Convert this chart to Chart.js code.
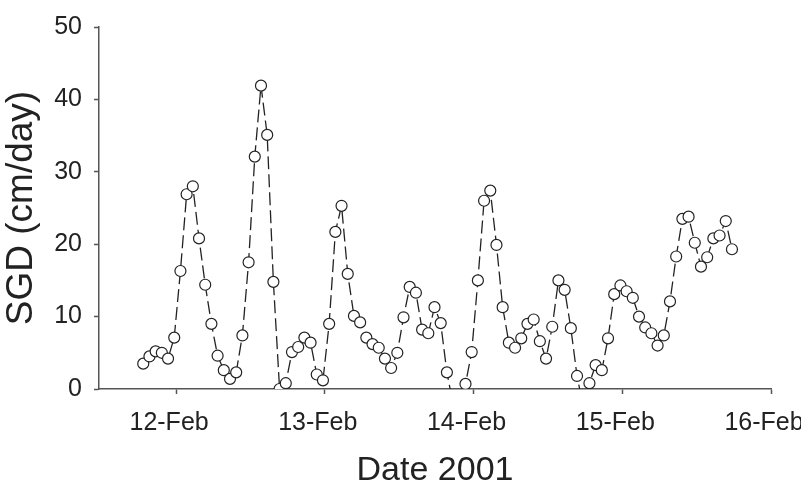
<!DOCTYPE html>
<html>
<head>
<meta charset="utf-8">
<script src="https://cdn.jsdelivr.net/npm/chart.js@4.4.1/dist/chart.umd.min.js"></script>
<style>
html, body { margin: 0; padding: 0; background: #fff; overflow: hidden; }
#wrap { width: 830px; height: 489px; }
</style>
</head>
<body>
<div id="wrap"><canvas id="chart" width="830" height="489"></canvas></div>
<script>
// hours after 12-Feb 00:00 (hourly samples)
const hours = [
    -5.3, -4.3, -3.3, -2.3, -1.3, -0.3, 0.7, 1.7, 2.7, 3.7, 4.7, 5.7,
    6.7, 7.7, 8.7, 9.7, 10.7, 11.7, 12.7, 13.7, 14.7, 15.7, 16.7, 17.7,
    18.7, 19.7, 20.7, 21.7, 22.7, 23.7, 24.7, 25.7, 26.7, 27.7, 28.7, 29.7,
    30.7, 31.7, 32.7, 33.7, 34.7, 35.7, 36.7, 37.7, 38.7, 39.7, 40.7, 41.7,
    42.7, 43.7, 44.7, 45.7, 46.7, 47.7, 48.7, 49.7, 50.7, 51.7, 52.7, 53.7,
    54.7, 55.7, 56.7, 57.7, 58.7, 59.7, 60.7, 61.7, 62.7, 63.7, 64.7, 65.7,
    66.7, 67.7, 68.7, 69.7, 70.7, 71.7, 72.7, 73.7, 74.7, 75.7, 76.7, 77.7,
    78.7, 79.7, 80.7, 81.7, 82.7, 83.7, 84.7, 85.7, 86.7, 87.7, 88.7, 89.7
];

// SGD in cm/day
const sgd = [
    3.5, 4.5, 5.2, 5.0, 4.2, 7.1, 16.3, 26.9, 28.0, 20.8,
    14.4, 9.0, 4.6, 2.6, 1.4, 2.3, 7.4, 17.5, 32.1, 41.9,
    35.1, 14.8, 0.0, 0.8, 5.1, 5.8, 7.1, 6.4, 2.0, 1.2,
    9.0, 21.7, 25.3, 15.9, 10.1, 9.2, 7.1, 6.2, 5.7, 4.2,
    2.9, 5.0, 9.9, 14.1, 13.3, 8.2, 7.7, 11.3, 9.1, 2.3,
    -2.1, -2.0, 0.7, 5.1, 15.0, 26.0, 27.4, 19.9, 11.3, 6.4,
    5.7, 7.0, 9.0, 9.6, 6.6, 4.2, 8.6, 15.0, 13.7, 8.4,
    1.8, -2.5, 0.8, 3.3, 2.6, 7.0, 13.1, 14.3, 13.5, 12.6,
    10.0, 8.5, 7.7, 6.0, 7.4, 12.1, 18.3, 23.5, 23.8, 20.2,
    16.9, 18.2, 20.8, 21.2, 23.2, 19.3
];

const tickHours = [0, 24, 48, 72, 96];
const tickLabels = ["12-Feb", "13-Feb", "14-Feb", "15-Feb", "16-Feb"];

const fam = "'Liberation Sans', Arial, sans-serif";
const ink = "#222";
const axisCol = "#555";

const ctx = document.getElementById("chart").getContext("2d");
new Chart(ctx, {
    type: "line",
    data: {
        datasets: [{
            data: hours.map((h, i) => ({ x: h, y: sgd[i] })),
            borderColor: ink,
            borderWidth: 1.3,
            borderDash: [13, 5],
            pointRadius: 5.5,
            pointBorderWidth: 1.2,
            pointBackgroundColor: "#fff",
            pointBorderColor: ink,
            tension: 0
        }]
    },
    options: {
        responsive: false,
        animation: false,
        layout: { padding: { top: 17, right: 59, left: 0, bottom: 0 } },
        plugins: { legend: { display: false }, tooltip: { enabled: false } },
        scales: {
            x: {
                type: "linear",
                min: -12.44,
                max: 96,
                afterBuildTicks: (s) => { s.ticks = tickHours.map(v => ({ value: v })); },
                afterFit: (s) => { s.height = 100; },
                grid: { drawOnChartArea: false, drawTicks: true, tickLength: 5, tickColor: axisCol, tickWidth: 1.5 },
                border: { display: true, color: axisCol, width: 1.5 },
                ticks: {
                    callback: (v, i) => tickLabels[i],
                    padding: 14,
                    labelOffset: -7,
                    maxRotation: 0,
                    autoSkip: false,
                    color: ink,
                    font: { family: fam, size: 25 }
                },
                title: {
                    display: true,
                    text: "Date 2001",
                    color: ink,
                    font: { family: fam, size: 34, lineHeight: 1 },
                    padding: { top: 0, bottom: 1 }
                }
            },
            y: {
                min: 0,
                max: 50,
                afterFit: (s) => { s.width = 99; },
                grid: { drawOnChartArea: false, drawTicks: true, tickLength: 5, tickColor: axisCol, tickWidth: 1.5 },
                border: { display: true, color: axisCol, width: 1.5 },
                ticks: {
                    stepSize: 10,
                    padding: 12,
                    color: ink,
                    font: { family: fam, size: 25 }
                },
                title: {
                    display: true,
                    text: "SGD (cm/day)",
                    color: ink,
                    font: { family: fam, size: 37, lineHeight: 1 },
                    padding: { top: 3, bottom: 0 }
                }
            }
        }
    }
});
</script>
</body>
</html>
